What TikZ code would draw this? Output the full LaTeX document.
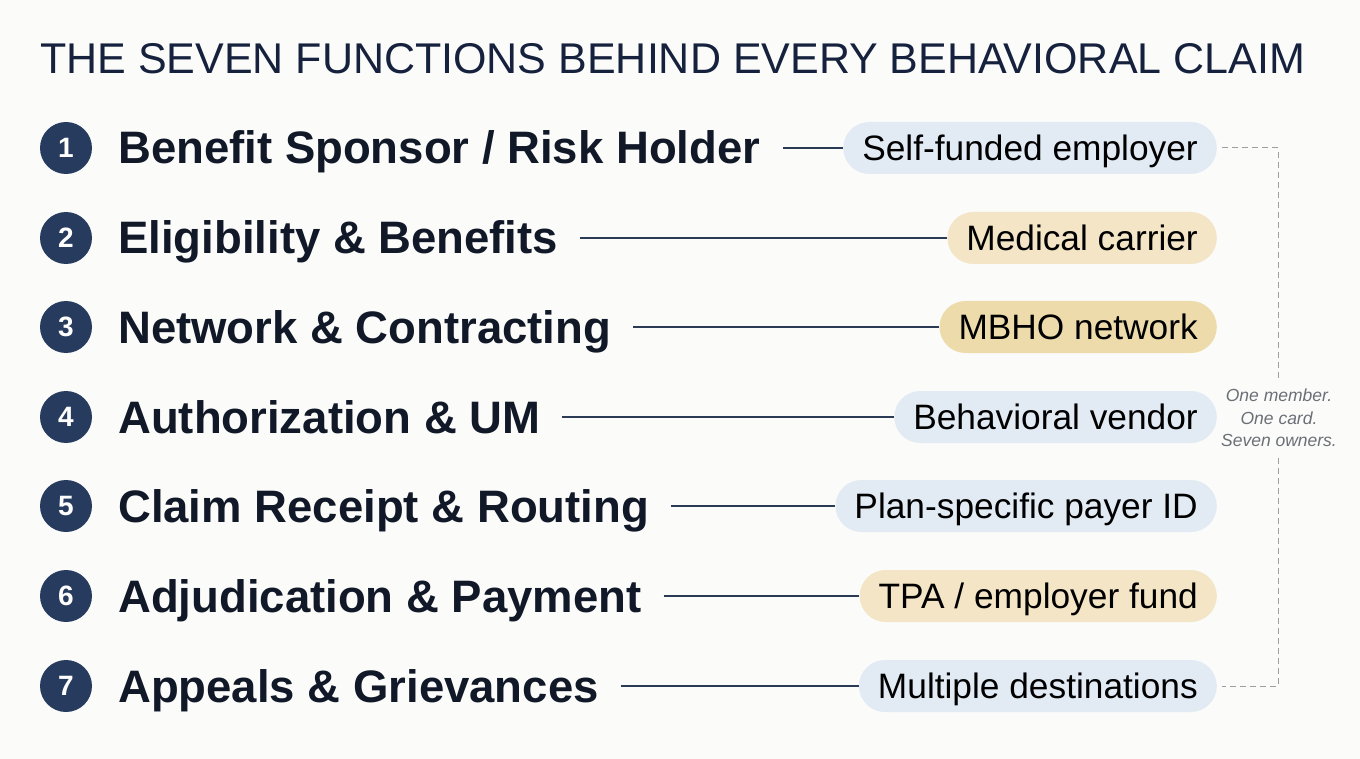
\documentclass[tikz,border=0pt]{standalone}
\usepackage{fontspec}
\setmainfont{Liberation Sans}
\usetikzlibrary{positioning}

\definecolor{bgcol}{HTML}{FBFBFA}
\definecolor{navy}{HTML}{273B5E}
\definecolor{ink}{HTML}{111827}
\definecolor{titleink}{HTML}{16223D}
\definecolor{linecol}{HTML}{2B3A55}
\definecolor{pillblue}{HTML}{E2EAF4}
\definecolor{pilltan}{HTML}{F3E5C6}
\definecolor{pilldeep}{HTML}{EEDBAC}
\definecolor{dashgray}{HTML}{9E9E9E}
\definecolor{notegray}{HTML}{6B6F76}

\begin{document}
\begin{tikzpicture}[x=1pt, y=-1pt,
    numdot/.style={circle, fill=navy, text=white, minimum size=52pt, inner sep=0pt, font=\fontsize{28}{28}\selectfont\bfseries},
    funclabel/.style={anchor=base west, inner sep=0pt, text=ink, font=\fontsize{45.5}{45.5}\selectfont\bfseries},
    owner/.style={rounded corners=26pt, minimum height=52pt, inner xsep=19pt, inner ysep=0pt, text height=25.2pt, text depth=0pt, anchor=east, text=black, font=\fontsize{35.3}{35.3}\selectfont},
    bluepill/.style={owner, fill=pillblue},
    tanpill/.style={owner, fill=pilltan},
    link/.style={draw=linecol, line width=1.3pt, shorten <=22pt},
    bracket/.style={draw=dashgray, line width=1pt, dash pattern=on 6pt off 4pt}]

    % Background and frame
    \fill[bgcol] (0,0) rectangle (1360,759);
    \useasboundingbox (0,0) rectangle (1360,759);

    % Title
    \node[anchor=base west, inner sep=0pt, text=titleink, font=\fontsize{43}{43}\selectfont] (title) at (40,74) {THE SEVEN FUNCTIONS BEHIND EVERY BEHAVIORAL CLAIM};

    % Numbered markers
    \node[numdot] (n1) at (66,148) {1};
    \node[numdot] (n2) at (66,238) {2};
    \node[numdot] (n3) at (66,327) {3};
    \node[numdot] (n4) at (66,417) {4};
    \node[numdot] (n5) at (66,506) {5};
    \node[numdot] (n6) at (66,596) {6};
    \node[numdot] (n7) at (66,686) {7};

    % Functions
    \node[funclabel] (f1) at (118,164) {Benefit Sponsor / Risk Holder};
    \node[funclabel] (f2) at (118,254) {Eligibility \& Benefits};
    \node[funclabel] (f3) at (118,343) {Network \& Contracting};
    \node[funclabel] (f4) at (118,433) {Authorization \& UM};
    \node[funclabel] (f5) at (118,522) {Claim Receipt \& Routing};
    \node[funclabel] (f6) at (118,612) {Adjudication \& Payment};
    \node[funclabel] (f7) at (118,702) {Appeals \& Grievances};

    % Owners
    \node[bluepill] (o1) at (1217,148) {Self-funded employer};
    \node[tanpill] (o2) at (1217,238) {Medical carrier};
    \node[owner, fill=pilldeep] (o3) at (1217,327) {MBHO network};
    \node[bluepill] (o4) at (1217,417) {Behavioral vendor};
    \node[bluepill] (o5) at (1217,506) {Plan-specific payer ID};
    \node[tanpill] (o6) at (1217,596) {TPA / employer fund};
    \node[bluepill] (o7) at (1217,686) {Multiple destinations};

    % Connectors
    \draw[link] (f1.east |- o1) -- (o1.west);
    \draw[link] (f2.east |- o2) -- (o2.west);
    \draw[link] (f3.east |- o3) -- (o3.west);
    \draw[link] (f4.east |- o4) -- (o4.west);
    \draw[link] (f5.east |- o5) -- (o5.west);
    \draw[link] (f6.east |- o6) -- (o6.west);
    \draw[link] (f7.east |- o7) -- (o7.west);

    % Bracket with note
    \node[align=center, inner xsep=0pt, inner ysep=11pt, text=notegray, font=\fontsize{17.5}{22.5}\selectfont\itshape] (note) at (1279,418) {One member.\\One card.\\Seven owners.};
    \coordinate (topturn) at (1278,148);
    \coordinate (botturn) at (1278,686);
    \draw[bracket] ([xshift=5pt]o1.east) -- (topturn) -- (note.north -| topturn);
    \draw[bracket] (note.south -| botturn) -- (botturn) -- ([xshift=5pt]o7.east);
\end{tikzpicture}
\end{document}
